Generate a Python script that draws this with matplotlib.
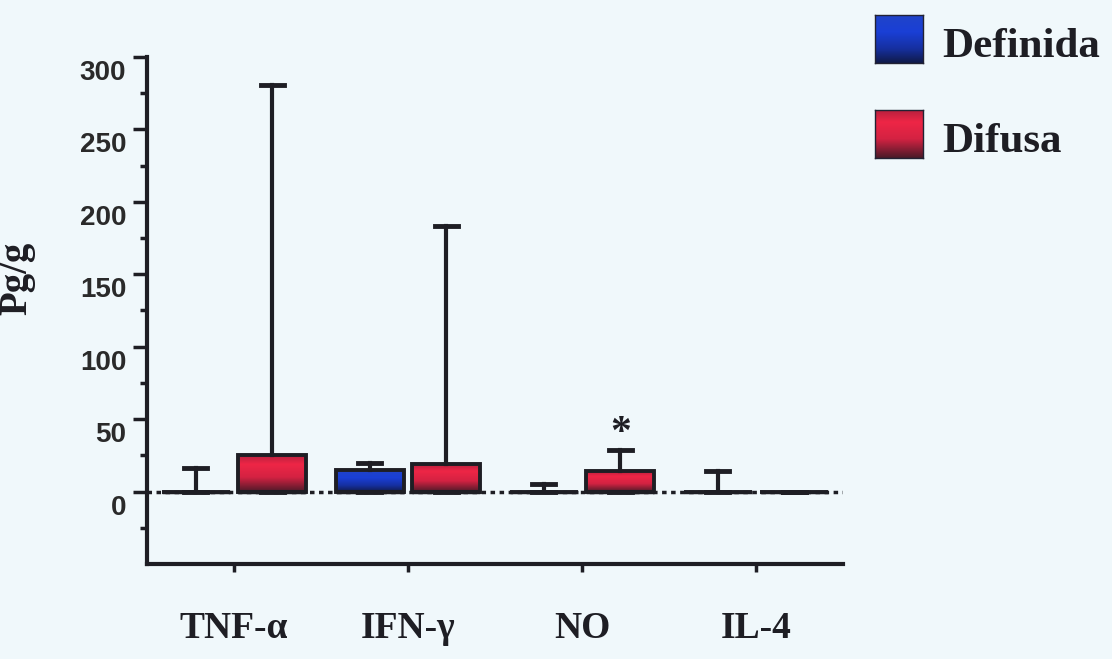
import numpy as np
import matplotlib
matplotlib.use('Agg')
import matplotlib.pyplot as plt
from matplotlib.colors import LinearSegmentedColormap
from matplotlib.transforms import ScaledTranslation

categories = ['TNF-α', 'IFN-γ', 'NO', 'IL-4']
series = ['Definida', 'Difusa']
# box tops (q3) and upper whisker ends, Pg/g ; lower quartile/median/min all at 0
definida_q3 = [0, 15, 0, 0]
definida_top = [16, 20, 5, 14]
difusa_q3 = [25, 19, 14, 0]
difusa_top = [281, 183, 29, 0]
star_value = 40  # asterisk above NO / Difusa

BG = '#f0f8fb'
INK = '#1e1e24'
blue_cmap = LinearSegmentedColormap.from_list(
    'blu', [(0, '#2044c8'), (0.35, '#1a3fd6'), (0.7, '#1630a0'), (1, '#101a48')])
red_cmap = LinearSegmentedColormap.from_list(
    'red', [(0, '#b8203e'), (0.25, '#ee2646'), (0.6, '#d42242'), (1, '#4a1a28')])
grad = np.linspace(0, 1, 256).reshape(-1, 1)


def stats(q3, top):
    return [dict(whislo=0, q1=0, med=0, q3=a, whishi=b, fliers=[])
            for a, b in zip(q3, top)]


fig = plt.figure(figsize=(11.12, 6.59), dpi=100, facecolor=BG)
ax = fig.add_axes([147 / 1112, 95 / 659, 696 / 1112, 507 / 659])
ax.set_facecolor(BG)

x = np.arange(len(categories))
off, w = 0.22, 0.39

ax.axhline(0, color=INK, lw=2.5, ls=(0, (1.3, 1.3)), zorder=1)

for q3, top, pos, cmap in [(definida_q3, definida_top, x - off, blue_cmap),
                           (difusa_q3, difusa_top, x + off, red_cmap)]:
    bp = ax.bxp(stats(q3, top), positions=pos, widths=w, capwidths=0.13,
                patch_artist=True, showfliers=False, manage_ticks=False,
                boxprops=dict(facecolor='none', edgecolor=INK, lw=2.8),
                whiskerprops=dict(color=INK, lw=3),
                capprops=dict(color=INK, lw=3.5),
                medianprops=dict(color=INK, lw=2.5), zorder=3)
    for box in bp['boxes']:
        v = box.get_path().vertices
        x0, x1 = v[:, 0].min(), v[:, 0].max()
        y0, y1 = v[:, 1].min(), v[:, 1].max()
        if y1 > y0:
            im = ax.imshow(grad, extent=(x0, x1, y0, y1), aspect='auto',
                           cmap=cmap, origin='upper', zorder=2.5)
            im.set_clip_path(box)

ax.text(2 + off, star_value, '*', ha='center', va='center', fontsize=30,
        fontfamily='Liberation Serif', fontweight='bold', color=INK)

ax.set_xlim(-0.5, 3.5)
ax.set_ylim(-50, 300)
ax.spines[['top', 'right']].set_visible(False)
for s in ['left', 'bottom']:
    ax.spines[s].set_linewidth(3)
    ax.spines[s].set_color(INK)

ax.set_yticks(range(0, 301, 50))
ax.set_yticks(np.arange(-25, 300, 50), minor=True)
ax.tick_params(axis='y', which='major', direction='out', length=10, width=2.5,
               pad=5, labelsize=20, color=INK, labelcolor='#2a2a2a')
ax.tick_params(axis='y', which='minor', direction='out', length=5, width=2.5, color=INK)
ax.set_xticks(x, categories)
ax.tick_params(axis='x', direction='out', length=6, width=2.5, pad=28,
               labelsize=27, color=INK, labelcolor=INK)
for lab in ax.get_xticklabels():
    lab.set_fontfamily('Liberation Serif')
    lab.set_fontweight('bold')
shift = ScaledTranslation(0, -13 / 100, fig.dpi_scale_trans)
for lab in ax.get_yticklabels():
    lab.set_fontfamily('Liberation Sans')
    lab.set_fontweight('bold')
    lab.set_transform(lab.get_transform() + shift)

ax.set_ylabel('Pg/g', fontsize=28, fontfamily='Liberation Serif',
              fontweight='bold', color=INK)
ax.yaxis.set_label_coords(-0.16, 0.564)

# legend
for i, (name, cmap) in enumerate(zip(series, [blue_cmap, red_cmap])):
    sw = fig.add_axes([875 / 1112, (659 - 63 - 95 * i) / 659, 48 / 1112, 48 / 659])
    sw.imshow(grad, aspect='auto', cmap=cmap, origin='upper')
    sw.set_xticks([])
    sw.set_yticks([])
    for sp in sw.spines.values():
        sp.set_color('#222233')
        sp.set_linewidth(1)
    fig.text(942 / 1112, (659 - 57 - 95 * i) / 659, name, fontsize=31,
             fontfamily='Liberation Serif', fontweight='bold', color=INK,
             va='baseline')

fig.savefig('out.png', dpi=100, facecolor=BG)
